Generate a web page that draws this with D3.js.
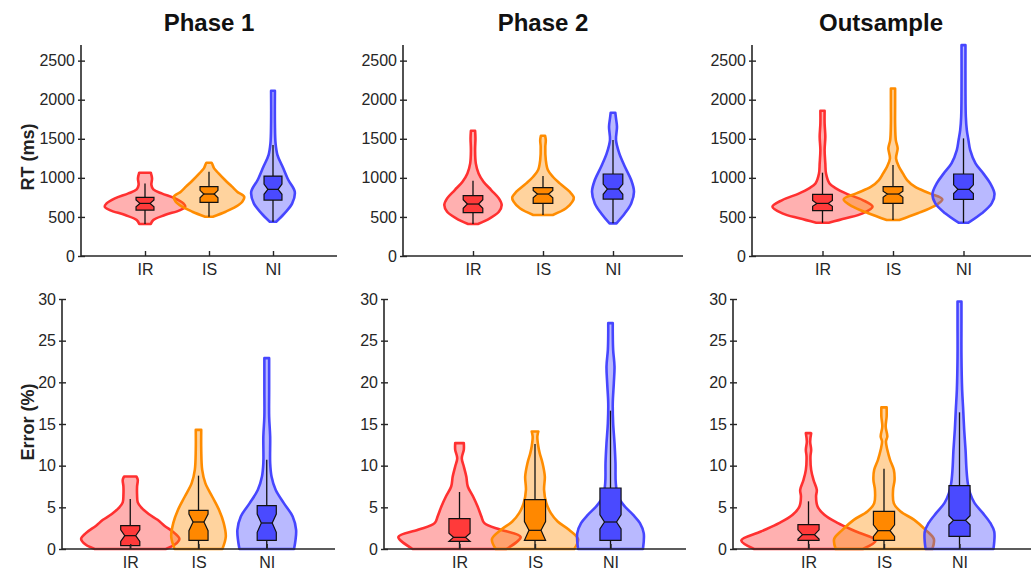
<!DOCTYPE html>
<html><head><meta charset="utf-8">
<script src="https://cdn.jsdelivr.net/npm/d3@7"></script>
<style>
body{margin:0;background:#fff;}
svg{display:block;font-family:"Liberation Sans",Arial,Helvetica,sans-serif;}
</style></head>
<body><svg id="c" width="1031" height="578"></svg>
<script>
// ---------- DATA ----------
const categories = ["IR","IS","NI"];
const titles = ["Phase 1","Phase 2","Outsample"];
const rtTicks = [0,500,1000,1500,2000,2500];
const errTicks = [0,5,10,15,20,25,30];

// violin profiles: [value, half-width in category units]
const rtP1_IR = [[409,0.09],[460,0.13],[524,0.31],[588,0.55],[631,0.63],[673,0.60],[737,0.47],[801,0.26],[853,0.13],[908,0.10],[993,0.11],[1066,0.09]];
const rtP1_IS = [[503,0.06],[567,0.26],[631,0.42],[695,0.52],[759,0.55],[823,0.44],[887,0.36],[972,0.25],[1057,0.15],[1121,0.08],[1180,0.05],[1194,0.04]];
const rtP1_NI = [[439,0.05],[546,0.18],[673,0.30],[823,0.34],[972,0.24],[1142,0.15],[1292,0.07],[1441,0.04],[1697,0.03],[2114,0.03]];
const rtP2_IR = [[409,0.07],[482,0.24],[567,0.37],[652,0.41],[737,0.37],[844,0.26],[951,0.15],[1057,0.08],[1185,0.04],[1355,0.03],[1505,0.035],[1603,0.03]];
const rtP2_IS = [[524,0.14],[610,0.33],[695,0.42],[750,0.44],[823,0.38],[929,0.24],[1014,0.14],[1100,0.07],[1228,0.04],[1398,0.033],[1483,0.04],[1539,0.03]];
const rtP2_NI = [[418,0.05],[546,0.17],[673,0.26],[823,0.30],[972,0.26],[1142,0.17],[1313,0.09],[1483,0.043],[1654,0.057],[1760,0.043],[1833,0.033]];
const rtP3_IR = [[426,0.09],[482,0.33],[546,0.57],[631,0.71],[716,0.57],[801,0.33],[865,0.19],[929,0.10],[1057,0.05],[1185,0.04],[1355,0.03],[1526,0.04],[1697,0.03],[1858,0.03]];
const rtP3_IS = [[460,0.09],[546,0.35],[631,0.57],[725,0.70],[801,0.52],[887,0.31],[972,0.20],[1057,0.14],[1142,0.085],[1249,0.043],[1377,0.066],[1483,0.04],[1697,0.03],[1910,0.03],[2144,0.03]];
const rtP3_NI = [[426,0.07],[546,0.26],[673,0.40],[793,0.44],[929,0.38],[1057,0.28],[1185,0.17],[1355,0.095],[1483,0.07],[1611,0.047],[1782,0.033],[2123,0.028],[2698,0.028]];

const erP1_IR = [[0,0.52],[0.5,0.65],[1.2,0.72],[1.9,0.65],[2.8,0.5],[3.5,0.4],[4.2,0.27],[5,0.16],[5.6,0.11],[6.5,0.1],[7.5,0.1],[8.3,0.11],[8.7,0.09]];
const erP1_IS = [[0,0.35],[1.5,0.40],[3.1,0.37],[4.7,0.30],[6.3,0.20],[7.9,0.10],[9.5,0.054],[11.9,0.04],[14.3,0.04]];
const erP1_NI = [[0,0.40],[1,0.42],[2.3,0.43],[3.9,0.38],[5.5,0.25],[7.1,0.13],[8.7,0.07],[10.3,0.05],[13.5,0.05],[15.9,0.035],[19.1,0.035],[22.9,0.035]];
const erP2_IR = [[0,0.62],[1.44,0.81],[2.3,0.55],[3.1,0.33],[3.9,0.29],[5.1,0.24],[6.3,0.18],[7.5,0.11],[8.7,0.09],[9.9,0.057],[10.9,0.03],[11.9,0.057],[12.7,0.057]];
const erP2_IS = [[0,0.52],[1.2,0.57],[2.3,0.45],[3.3,0.30],[4.3,0.21],[5.5,0.15],[7.1,0.12],[8.7,0.13],[10.3,0.10],[11.5,0.062],[12.3,0.044],[13.5,0.031],[14.1,0.044]];
const erP2_NI = [[0,0.43],[1.9,0.44],[3.1,0.39],[4.1,0.30],[5.1,0.19],[6.3,0.10],[7.9,0.07],[10.3,0.066],[12.7,0.053],[15.1,0.035],[17.5,0.03],[19.9,0.044],[21.9,0.053],[23.9,0.035],[25.9,0.03],[27.1,0.03]];
const erP3_IR = [[0,0.72],[1.04,0.89],[2.1,0.63],[3.1,0.39],[4.1,0.21],[5.1,0.12],[6.3,0.10],[7.1,0.11],[8.3,0.066],[9.5,0.035],[11.1,0.026],[11.9,0.035],[12.9,0.022],[13.9,0.035]];
const erP3_IS = [[0,0.64],[1.2,0.66],[2.3,0.55],[3.5,0.40],[4.5,0.22],[5.5,0.13],[7.1,0.12],[8.3,0.14],[9.5,0.13],[10.7,0.08],[11.9,0.044],[12.9,0.026],[13.5,0.044],[14.7,0.022],[15.9,0.035],[17,0.035]];
const erP3_NI = [[0,0.45],[2.1,0.46],[3.1,0.41],[4.3,0.31],[5.5,0.20],[6.7,0.14],[7.9,0.11],[9.5,0.093],[11.9,0.08],[14.3,0.062],[16.7,0.049],[19.1,0.035],[23.1,0.026],[27.1,0.026],[29.7,0.026]];

// box stats: [whiskerLow, q1, notchLow, median, notchHigh, q3, whiskerHigh]
const rtBoxP1 = [[409,588,631,673,716,750,929],[503,686,745,793,840,887,1078],[439,716,790,853,920,1023,1419]];
const rtBoxP2 = [[409,554,610,665,720,772,963],[524,673,745,793,840,874,1023],[418,729,790,857,920,1049,1483]];
const rtBoxP3 = [[426,580,635,673,710,789,1066],[460,673,750,793,830,887,1164],[426,725,800,853,910,1049,1505]];
const erBoxP1 = [[0,0.4,0.9,1.6,2.3,2.8,6.0],[0,1.04,2.2,3.24,4.2,4.64,8.8],[0,1.04,2.0,3.12,4.2,5.2,10.7]];
const erBoxP2 = [[0,0.92,0.92,1.4,1.9,3.64,6.84],[0,1.04,1.04,2.24,3.3,5.92,12.6],[0,1.04,2.4,3.24,4.1,7.32,16.6]];
const erBoxP3 = [[0,1.04,1.2,1.72,2.3,2.92,5.72],[0,1.04,1.5,2.2,2.9,4.52,9.64],[0,1.52,2.9,3.44,4.0,7.6,16.4]];

// ---------- STYLE / LAYOUT ----------
const lineColors = ["#ff3030","#ff8c00","#4646ff"];
const boxColors = ["#ff3a3a","#ff8800","#4a4aff"];
const axisColor = "#262626";

const panels = [
  {violins:[rtP1_IR,rtP1_IS,rtP1_NI], boxes:rtBoxP1, x:[81,337], y:[256,45], dom:2700, ticks:rtTicks},
  {violins:[rtP2_IR,rtP2_IS,rtP2_NI], boxes:rtBoxP2, x:[403,683], y:[256,45], dom:2700, ticks:rtTicks},
  {violins:[rtP3_IR,rtP3_IS,rtP3_NI], boxes:rtBoxP3, x:[752,1034], y:[256,45], dom:2700, ticks:rtTicks},
  {violins:[erP1_IR,erP1_IS,erP1_NI], boxes:erBoxP1, x:[62,335], y:[549,299], dom:30, ticks:errTicks},
  {violins:[erP2_IR,erP2_IS,erP2_NI], boxes:erBoxP2, x:[384,686], y:[549,299], dom:30, ticks:errTicks},
  {violins:[erP3_IR,erP3_IS,erP3_NI], boxes:erBoxP3, x:[733,1035], y:[549,299], dom:30, ticks:errTicks}
];

const svg = d3.select("#c");
svg.append("rect").attr("width",1031).attr("height",578).attr("fill","#fff");

const boxHW = 0.14, notchHW = 0.08;

panels.forEach((p,pi)=>{
  const x = d3.scaleLinear().domain([0,4]).range(p.x);
  const y = d3.scaleLinear().domain([0,p.dom]).range(p.y);
  const g = svg.append("g");

  // violins
  p.violins.forEach((prof,ci)=>{
    const c = ci+1;
    const area = d3.area()
      .y(d=>y(d[0]))
      .x0(d=>x(c-d[1]))
      .x1(d=>x(c+d[1]))
      .curve(d3.curveCatmullRom.alpha(0.5));
    g.append("path").attr("d",area(prof))
      .attr("fill",lineColors[ci]).attr("fill-opacity",0.38)
      .attr("stroke",lineColors[ci]).attr("stroke-width",2.6)
      .attr("stroke-linejoin","round");
  });

  // boxes
  p.boxes.forEach((b,ci)=>{
    const c = ci+1;
    const [wLo,q1,nLo,med,nHi,q3,wHi] = b;
    g.append("line").attr("x1",x(c)).attr("x2",x(c))
      .attr("y1",y(wLo)).attr("y2",y(wHi))
      .attr("stroke","#111").attr("stroke-width",1.3);
    const bot = Math.min(q1,nLo), top = Math.max(q3,nHi);
    const pts = [
      [c-boxHW,bot],[c+boxHW,bot],[c+boxHW,nLo],[c+notchHW,med],[c+boxHW,nHi],[c+boxHW,top],
      [c-boxHW,top],[c-boxHW,nHi],[c-notchHW,med],[c-boxHW,nLo]
    ];
    g.append("path").attr("d",d3.line().x(d=>x(d[0])).y(d=>y(d[1]))(pts)+"Z")
      .attr("fill",boxColors[ci]).attr("stroke","#111").attr("stroke-width",1.2)
      .attr("stroke-linejoin","miter");
    g.append("line").attr("x1",x(c-notchHW)).attr("x2",x(c+notchHW))
      .attr("y1",y(med)).attr("y2",y(med)).attr("stroke","#111").attr("stroke-width",1.2);
  });

  // axes
  const ya = g.append("g").attr("transform",`translate(${p.x[0]},0)`)
    .call(d3.axisLeft(y).tickValues(p.ticks).tickFormat(d3.format("d")).tickSizeInner(-4).tickSizeOuter(0).tickPadding(6));
  const xa = g.append("g").attr("transform",`translate(0,${p.y[0]})`)
    .call(d3.axisBottom(x).tickValues([1,2,3]).tickFormat((d,i)=>categories[i]).tickSizeInner(-5).tickSizeOuter(0).tickPadding(8));
  [ya,xa].forEach(a=>{
    a.select(".domain").attr("stroke",axisColor).attr("stroke-width",1.6);
    a.selectAll(".tick line").attr("stroke",axisColor).attr("stroke-width",1.4);
    a.selectAll("text").attr("fill",axisColor).attr("font-size",16).attr("font-family",'"Liberation Sans",Arial,sans-serif');
  });
  ya.selectAll(".tick line").attr("x1",-3);
  ya.select(".domain").attr("d",`M0,${p.y[0]}V${p.y[1]}`);
  xa.select(".domain").attr("d",`M${p.x[0]},0H${p.x[1]}`);
});

// titles
const titleX = [209,543,881];
titles.forEach((t,i)=>{
  svg.append("text").attr("x",titleX[i]).attr("y",31).attr("text-anchor","middle")
    .attr("font-size",24).attr("font-weight","bold").attr("fill","#111").text(t);
});
// y labels
[["RT (ms)",157],["Error (%)",422]].forEach(([t,cy])=>{
  svg.append("text").attr("transform",`translate(34,${cy}) rotate(-90)`)
    .attr("text-anchor","middle").attr("font-size",18).attr("font-weight","bold")
    .attr("fill","#222").text(t);
});
</script></body></html>
